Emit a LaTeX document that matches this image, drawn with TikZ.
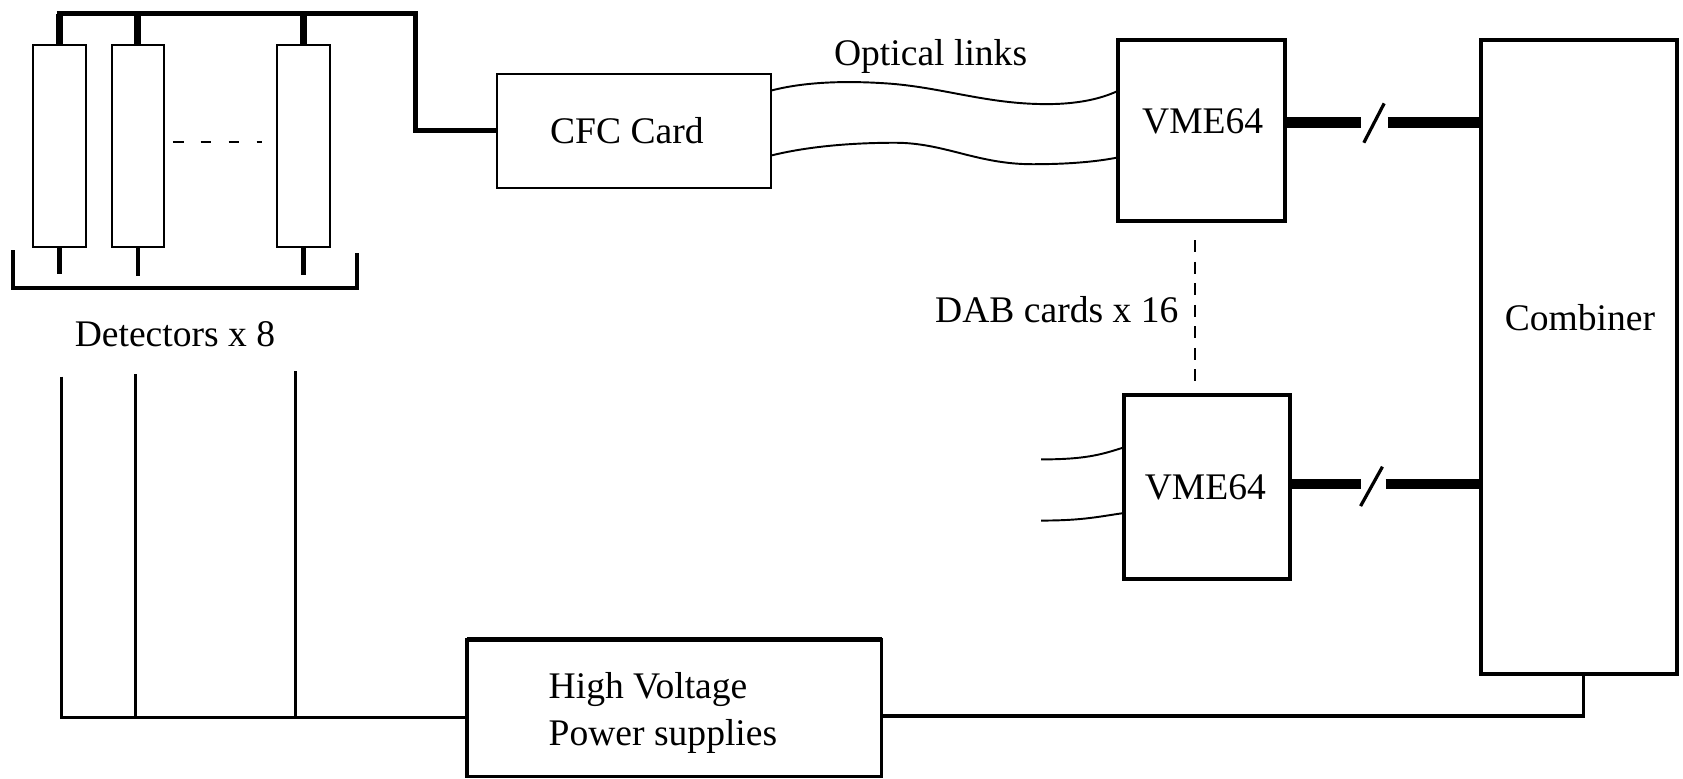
\documentclass[tikz,border=0pt]{standalone}
\usepackage{fontspec}
\setmainfont{Liberation Serif}
\begin{document}
\begin{tikzpicture}[x=1pt,y=-1pt,
  box/.style={draw,rectangle,inner sep=0pt,outer sep=0pt,line width=2pt},
  lbl/.style={inner sep=0pt,anchor=base,font=\fontsize{35pt}{44pt}\selectfont},
  tube/.style={draw,rectangle,inner sep=0pt,outer sep=0pt,line width=1.9pt,minimum width=49pt,minimum height=188pt},
  bus/.style={line width=4.7pt},
  tap/.style={line width=6.5pt},
  stub/.style={line width=4.5pt},
  wire/.style={line width=3pt},
  link/.style={line width=1.8pt},
  heavy/.style={line width=10pt},
  slashline/.style={line width=3pt},
  dashline/.style={line width=2pt,dash pattern=on 11pt off 9pt}
]
\useasboundingbox (0,0) rectangle (1568,725);

% detector tubes
\node[tube] (t1) at (55.5,136) {};
\node[tube] (t2) at (128.5,136) {};
\node[tube] (t3) at (282.5,136) {};

% boxes
\node[box,minimum width=255pt,minimum height=106pt] (cfc) at (590.5,122) {};
\node[box,line width=3.7pt,minimum width=155pt,minimum height=169pt] (vmeA) at (1119.5,121.5) {};
\node[box,line width=3.7pt,minimum width=154.5pt,minimum height=171pt] (vmeB) at (1124.25,453.5) {};
\node[box,line width=3.7pt,minimum width=182pt,minimum height=591pt] (comb) at (1471,332.5) {};
\node[box,line width=3pt,minimum width=386.5pt,minimum height=127.5pt] (hv) at (628.25,659.75) {};
\draw[line width=4.5pt] (hv.north west) -- (hv.north east);

% labels
\node[lbl] (optlbl) at (867,60.6) {Optical links};
\node[lbl] (cfclbl) at (584,133.5) {CFC Card};
\node[lbl] (vmeAlbl) at (1120.5,124) {VME64};
\node[lbl] (vmeBlbl) at (1123,465) {VME64};
\node[lbl,anchor=base east] (dablbl) at (1098,300) {DAB cards x 16};
\node[lbl] (comblbl) at (1472,307.5) {Combiner};
\node[lbl] (detlbl) at (163,323) {Detectors x 8};
\node[lbl,anchor=north west,align=left] (hvlbl) at (511,626) {High Voltage\\Power supplies};

% signal bus to CFC card
\coordinate (busL) at (53,13);
\coordinate (busR) at (387,13);
\draw[bus] (busL) -- (busR) |- (cfc.west);
\foreach \t in {t1,t2,t3} \draw[tap] (\t.north) -- (\t.north |- busL);
\draw[stub] (t1.south) -- ++(0,25);
\draw[stub] (t2.south) -- ++(0,27);
\draw[stub] (t3.south) -- ++(0,26);
\draw[line width=2pt,dash pattern=on 10pt off 16pt] ([shift={(8,-4)}]t2.east) -- ([shift={(-14,-4)}]t3.west);

% bracket
\coordinate (brL) at (12,233);
\coordinate (brBL) at (12,268);
\coordinate (brBR) at (333,268);
\coordinate (brR) at (333,236);
\draw[line width=3.7pt] (brL) -- (brBL) -- (brBR) -- (brR);

% optical links
\draw[link] ([yshift=-15.5pt]cfc.north east) .. controls (750,76) and (790,75) .. (830,78)
  .. controls (880,82) and (920,97) .. (975,97)
  .. controls (1010,97) and (1030,90) .. ([yshift=-47.5pt]vmeA.north west);
\draw[link] ([yshift=-76pt]cfc.north east) .. controls (750,137) and (790,133) .. (834,133)
  .. controls (880,133) and (910,153) .. (962,153)
  .. controls (1000,153) and (1025,150) .. ([yshift=-109.6pt]vmeA.north west);

% inputs to second VME64
\coordinate (inA) at (970,428);
\coordinate (inB) at (970,485);
\draw[link] (inA) .. controls (1010,428) and (1025,424) .. ([yshift=-48.8pt]vmeB.north west);
\draw[link] (inB) .. controls (1010,485) and (1025,481) .. ([yshift=-110pt]vmeB.north west);

% DAB cards dashed
\draw[dashline] ([shift={(-6.5,18)}]vmeA.south) -- ([shift={(-11.25,-11)}]vmeB.north);

% heavy links to combiner
\draw[heavy] ([yshift=7.5pt]vmeA.east) -- ++(71,0) ++(25,0) -- ([yshift=7.5pt]vmeA.east -| comb.west);
\draw[slashline] ([yshift=7.5pt]vmeA.east) ++(73.6,19) -- ++(19,-36.7);
\draw[heavy] ([yshift=2.5pt]vmeB.east) -- ++(66.5,0) ++(23,0) -- ([yshift=2.5pt]vmeB.east -| comb.west);
\draw[slashline] ([yshift=2.5pt]vmeB.east) ++(66.1,20.5) -- ++(20.4,-36.7);

% high voltage lines
\coordinate (h1) at (57.6,351);
\coordinate (h2) at (126.5,348.5);
\coordinate (h3) at (275.6,346);
\coordinate (hvin) at ([yshift=-9pt]hv.west);
\draw[wire] (h1) |- (hvin);
\draw[wire] (h2) -- (h2 |- hvin);
\draw[wire] (h3) -- (h3 |- hvin);
\draw[wire] ([yshift=-7.25pt]hv.east) -| ([xshift=4.5pt]comb.south);
\end{tikzpicture}
\end{document}
